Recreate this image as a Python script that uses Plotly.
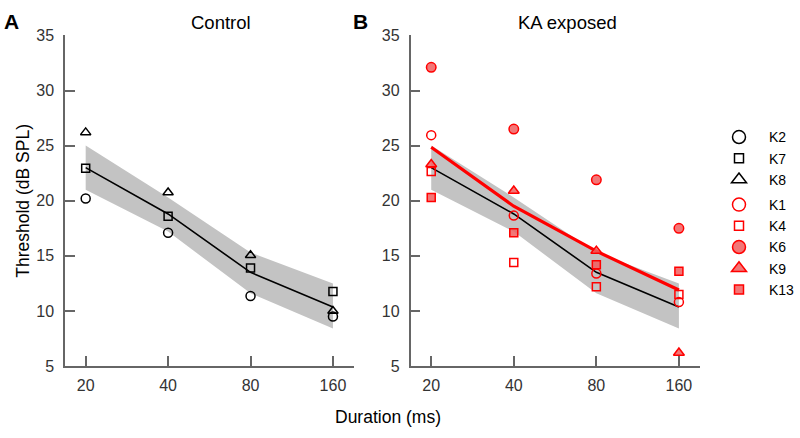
import plotly.graph_objects as go

# ---------------- data ----------------
durations = [20, 40, 80, 160]
tick_labels = ["20", "40", "80", "160"]

# Control subjects
K2 = [20.2, 17.1, 11.35, 9.5]
K7 = [22.95, 18.6, 13.9, 11.76]
K8 = [26.2, 20.75, 15.05, 10.0]

# KA exposed subjects
K1 = [25.95, 18.65, 13.4, 10.8]
K4 = [22.65, 14.4, 12.2, 11.5]
K6 = [32.1, 26.5, 21.9, 17.5]
K9 = [23.3, 20.9, 15.45, 6.2]
K13 = [20.3, 17.1, 14.2, 13.6]

# Group means and control variability band
control_mean = [23.0, 18.8, 13.5, 10.35]
control_upper = [25.0, 20.3, 15.3, 12.5]
control_lower = [21.0, 17.2, 11.6, 8.4]
ka_mean = [24.85, 19.5, 15.42, 11.9]

# ---------------- styles ----------------
RED = "#ff0000"
RED_FILL = "rgba(240,95,95,0.85)"
BAND = "rgb(195,195,195)"
AXC = "#666666"
FONT = "Liberation Sans, Arial"

fig = go.Figure()

def band(xa, ya):
    fig.add_trace(go.Scatter(
        x=durations + durations[::-1],
        y=control_upper + control_lower[::-1],
        fill="toself", fillcolor=BAND, line=dict(width=0),
        mode="lines", hoverinfo="skip", showlegend=False,
        xaxis=xa, yaxis=ya))

def meanline(vals, color, width, xa, ya):
    fig.add_trace(go.Scatter(
        x=durations, y=vals, mode="lines",
        line=dict(color=color, width=width),
        showlegend=False, xaxis=xa, yaxis=ya))

band("x", "y")
meanline(control_mean, "black", 1.6, "x", "y")
band("x2", "y2")
meanline(control_mean, "black", 1.6, "x2", "y2")
meanline(ka_mean, RED, 3.2, "x2", "y2")

subjects = [
    ("K2", K2, "circle-open", "black", None, 9, 13, "x", "y", "ctrl"),
    ("K7", K7, "square-open", "black", None, 8, 9, "x", "y", "ctrl"),
    ("K8", K8, "triangle-up-open", "black", None, 9, 13, "x", "y", "ctrl"),
    ("K1", K1, "circle-open", RED, None, 9, 13, "x2", "y2", "ka"),
    ("K4", K4, "square-open", RED, None, 8, 9, "x2", "y2", "ka"),
    ("K6", K6, "circle", RED, RED_FILL, 9.5, 13, "x2", "y2", "ka"),
    ("K9", K9, "triangle-up", RED, RED_FILL, 9.5, 13, "x2", "y2", "ka"),
    ("K13", K13, "square", RED, RED_FILL, 8, 9, "x2", "y2", "ka"),
]

for name, vals, sym, col, fillc, size, lsize, xa, ya, grp in subjects:
    mk = dict(symbol=sym, size=size, line=dict(color=col, width=1.5))
    mk["color"] = fillc if fillc is not None else col
    fig.add_trace(go.Scatter(
        x=durations, y=vals, mode="markers", marker=mk,
        name=name, showlegend=False, xaxis=xa, yaxis=ya))
    # legend-only entry with larger symbol
    lmk = dict(mk)
    lmk["size"] = lsize
    fig.add_trace(go.Scatter(
        x=[None], y=[None], mode="markers", marker=lmk,
        name=name, legendgroup=grp, showlegend=True, xaxis=xa, yaxis=ya))

# ---------------- layout ----------------
W, H = 800, 438
def px(xp):
    return xp / W
def py(yp):
    return 1 - yp / H

xrange_log = [1.2255, 2.281]
tickfont = dict(family=FONT, size=16, color="#333333")
xcommon = dict(type="log", range=xrange_log, tickvals=durations, ticktext=tick_labels,
               showgrid=False, zeroline=False, showline=True, linecolor=AXC, linewidth=1.5,
               ticks="inside", ticklen=10, tickwidth=1.5, tickcolor=AXC,
               tickfont=tickfont, ticklabelstandoff=4)
ycommon = dict(range=[5, 35], tickvals=[5, 10, 15, 20, 25, 30, 35],
               showgrid=False, zeroline=False, showline=True, linecolor=AXC, linewidth=1.5,
               ticks="inside", ticklen=10, tickwidth=1.5, tickcolor=AXC,
               tickfont=tickfont, ticklabelstandoff=6)

ydom = [py(372.5), py(28.5)]

fig.update_layout(
    width=W, height=H,
    margin=dict(l=0, r=0, t=0, b=0),
    paper_bgcolor="white", plot_bgcolor="white",
    font=dict(family=FONT, color="black"),
    xaxis=dict(domain=[px(65), px(354)], anchor="y", **xcommon),
    yaxis=dict(domain=ydom, anchor="x", **ycommon),
    xaxis2=dict(domain=[px(410.5), px(700)], anchor="y2", **xcommon),
    yaxis2=dict(domain=ydom, anchor="x2", **ycommon),
    legend=dict(x=1, y=py(118), xanchor="right", yanchor="top",
                font=dict(family=FONT, size=14, color="black"),
                itemwidth=50, tracegroupgap=4, bgcolor="rgba(0,0,0,0)"),
    showlegend=True,
)

ann = [
    dict(text="<b>A</b>", x=px(11), y=py(14), size=21),
    dict(text="<b>B</b>", x=px(360), y=py(14), size=21),
    dict(text="Control", x=px(221), y=py(15), size=18.5),
    dict(text="KA exposed", x=px(567.5), y=py(15), size=18.5),
    dict(text="Duration (ms)", x=px(387.5), y=py(425), size=17.5),
]
for a in ann:
    fig.add_annotation(text=a["text"], x=a["x"], y=a["y"], xref="paper", yref="paper",
                       xanchor="center", yanchor="middle", showarrow=False,
                       font=dict(family=FONT, size=a["size"], color="black"))
fig.add_annotation(text="Threshold (dB SPL)", x=px(23), y=py(200.5), xref="paper", yref="paper",
                   xanchor="center", yanchor="middle", showarrow=False, textangle=-90,
                   font=dict(family=FONT, size=17.5, color="black"))

fig.write_html("out.html", config={"displayModeBar": False},
               post_script="document.body.style.margin='0';")
